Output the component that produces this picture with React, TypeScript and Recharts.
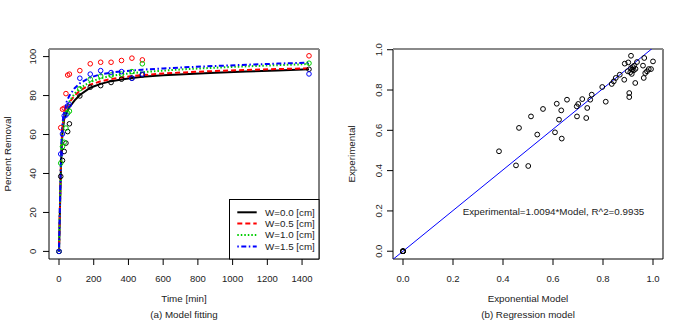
import React from "react";
import {
  ComposedChart,
  Line,
  Scatter,
  XAxis,
  YAxis,
  ReferenceArea,
  ReferenceLine,
} from "recharts";

// ---------- Data: left panel (a) Model fitting ----------
const pointTimes = [0, 10, 20, 30, 40, 50, 60, 120, 180, 240, 300, 360, 420, 480, 1440];
const obsW00 = [0, 38.5, 46.7, 51.3, 55.6, 61.5, 65.5, 79.8, 84.3, 85.1, 86.7, 88.4, 88.9, 90.6, 93.5];
const obsW05 = [0, 63.5, 73, 73.5, 81, 90.5, 91, 92.8, 96.3, 97.1, 97.1, 98, 99.2, 98.3, 100.4];
const obsW10 = [0, 45.3, 53.8, 56, 63.3, 71, 72, 83.5, 88.4, 90, 90.5, 91, 92.3, 96.3, 96.6];
const obsW15 = [0, 50, 60.3, 69.6, 70, 74.7, 75.3, 88.9, 91, 92.8, 91.8, 92.3, 88.9, 91, 91.1];

const curveTimes = [0, 5, 10, 15, 20, 30, 45, 60, 90, 120, 180, 240, 300, 360, 420, 480, 600, 720, 900, 1080, 1260, 1440];
const fitW00 = [0, 20, 39, 53, 61, 68, 71.5, 74, 77.5, 80.3, 84, 86, 87.4, 88.3, 89, 89.6, 90.4, 91, 91.7, 92.3, 92.9, 93.5];
const fitW05 = [0, 21, 41, 56, 64, 70, 74, 76.5, 80, 82.5, 85.6, 87.3, 88.5, 89.3, 90, 90.5, 91.3, 91.9, 92.6, 93.1, 93.6, 94];
const fitW10 = [0, 21, 40, 55, 63, 69.5, 74, 77, 81, 83.8, 87, 88.9, 90.1, 90.9, 91.5, 92, 92.8, 93.5, 94.3, 95, 95.6, 96.2];
const fitW15 = [0, 22, 43, 58, 66, 72, 77, 80, 83.8, 86.3, 89.3, 90.9, 91.8, 92.4, 92.9, 93.3, 93.9, 94.5, 95.2, 95.8, 96.4, 96.9];

const seriesNames = ["W=0.0 [cm]", "W=0.5 [cm]", "W=1.0 [cm]", "W=1.5 [cm]"];
const timeTicks = [0, 200, 400, 600, 800, 1000, 1200, 1400];
const removalTicks = [0, 20, 40, 60, 80, 100];

// ---------- Data: right panel (b) Regression model ----------
const modelX = [0, 0, 0, 0, 0.384, 0.452, 0.501, 0.464, 0.512, 0.537, 0.56, 0.608, 0.615, 0.624, 0.633, 0.635, 0.656, 0.695, 0.696, 0.701, 0.717, 0.733, 0.737, 0.749, 0.755, 0.797, 0.811, 0.835, 0.843, 0.851, 0.867, 0.885, 0.887, 0.901, 0.905, 0.905, 0.912, 0.899, 0.909, 0.917, 0.92, 0.925, 0.923, 0.929, 0.936, 0.96, 0.963, 0.965, 0.969, 0.976, 0.983, 0.992, 1.0, 0.912, 0.93, 0.915];
const experimentalY = [0, 0, 0, 0, 0.496, 0.426, 0.423, 0.612, 0.669, 0.579, 0.706, 0.59, 0.732, 0.653, 0.699, 0.559, 0.752, 0.719, 0.669, 0.731, 0.755, 0.661, 0.711, 0.752, 0.777, 0.815, 0.742, 0.83, 0.843, 0.86, 0.876, 0.851, 0.931, 0.937, 0.785, 0.765, 0.97, 0.893, 0.888, 0.901, 0.914, 0.921, 0.898, 0.835, 0.939, 0.921, 0.86, 0.959, 0.884, 0.893, 0.904, 0.904, 0.942, 0.909, 0.905, 0.88];
const regressionSlope = 1.0094;
const regressionR2 = 0.9935;
const unitTicks = [0, 0.2, 0.4, 0.6, 0.8, 1.0];

// ---------- styling ----------
const FONT = "'Liberation Sans', Arial, Helvetica, sans-serif";
const colors = ["#000000", "#FF0000", "#00CD00", "#0000FF"];
const dashes = [undefined, "5 3", "1.5 2", "1.5 2.5 5 2.5"];

const toXY = (xs: number[], ys: number[]) => xs.map((t, i) => ({ t, v: ys[i] }));
const obs = [obsW00, obsW05, obsW10, obsW15].map((ys) => toXY(pointTimes, ys));
const fits = [fitW00, fitW05, fitW10, fitW15].map((ys) => toXY(curveTimes, ys));

const scatterPts = modelX.map((x, i) => ({ x, y: experimentalY[i] }));

const LX_DOMAIN: [number, number] = [-57.6, 1497.6];
const LY_DOMAIN: [number, number] = [-3.9, 103.9];
const RX_DOMAIN: [number, number] = [-0.04, 1.04];
const RY_DOMAIN: [number, number] = [-0.0386, 1.0036];
const regLine = [
  { x: RX_DOMAIN[0], y: RX_DOMAIN[0] * regressionSlope },
  { x: RX_DOMAIN[1], y: RX_DOMAIN[1] * regressionSlope },
];

const CHART_W = 345;
const CHART_H = 321;
const MARGIN = { top: 49, right: 26, bottom: 0, left: 0 };
const TICK_FS = 9.5;
const LABEL_FS = 9.8;

const makeXTick = (fmt: (v: number) => string) => (p: any) => (
  <text
    key={`xt-${p.payload.value}`}
    x={p.x}
    y={282}
    textAnchor="middle"
    fontFamily={FONT}
    fontSize={TICK_FS}
    fill="#222"
  >
    {fmt(p.payload.value)}
  </text>
);

const makeYTick = (lx: number, fmt: (v: number) => string) => (p: any) => (
  <text
    key={`yt-${p.payload.value}`}
    x={lx}
    y={p.y}
    dy="0.35em"
    transform={`rotate(-90 ${lx} ${p.y})`}
    textAnchor="middle"
    fontFamily={FONT}
    fontSize={TICK_FS}
    fill="#222"
  >
    {fmt(p.payload.value)}
  </text>
);

const circleShape = (color: string, r: number) => (p: any) => (
  <circle cx={p.cx} cy={p.cy} r={r} fill="none" stroke={color} strokeWidth={1} />
);

function LeftChart() {
  return (
    <ComposedChart width={CHART_W} height={CHART_H} margin={MARGIN}>
      <XAxis
        type="number"
        dataKey="t"
        domain={LX_DOMAIN}
        ticks={timeTicks}
        interval={0}
        allowDataOverflow
        axisLine={false}
        tickSize={6}
        tickLine={{ stroke: "#000" }}
        height={62}
        tick={makeXTick((v) => String(v))}
      />
      <YAxis
        type="number"
        dataKey="v"
        domain={LY_DOMAIN}
        ticks={removalTicks}
        interval={0}
        allowDataOverflow
        axisLine={false}
        tickSize={6}
        tickLine={{ stroke: "#000" }}
        width={49}
        tick={makeYTick(32.5, (v) => String(v))}
      />
      <ReferenceArea
        x1={LX_DOMAIN[0]}
        x2={LX_DOMAIN[1]}
        y1={LY_DOMAIN[0]}
        y2={LY_DOMAIN[1]}
        fill="none"
        stroke="#000"
        strokeWidth={1}
        fillOpacity={0}
        ifOverflow="visible"
      />
      <ReferenceLine y={LY_DOMAIN[1]} stroke="#8a8a8a" strokeWidth={2} ifOverflow="visible" />
      {obs.map((d, i) => (
        <Scatter
          key={`pts-${i}`}
          data={d}
          dataKey="v"
          isAnimationActive={false}
          shape={circleShape(colors[i], 2.3)}
        />
      ))}
      {fits.map((d, i) => (
        <Line
          key={`fit-${i}`}
          data={d}
          dataKey="v"
          type="linear"
          stroke={colors[i]}
          strokeWidth={2}
          strokeDasharray={dashes[i]}
          dot={false}
          activeDot={false}
          isAnimationActive={false}
        />
      ))}
    </ComposedChart>
  );
}

function RightChart() {
  return (
    <ComposedChart width={CHART_W} height={CHART_H} margin={MARGIN}>
      <XAxis
        type="number"
        dataKey="x"
        domain={RX_DOMAIN}
        ticks={unitTicks}
        interval={0}
        allowDataOverflow
        axisLine={false}
        tickSize={6}
        tickLine={{ stroke: "#000" }}
        height={62}
        tick={makeXTick((v) => v.toFixed(1))}
      />
      <YAxis
        type="number"
        dataKey="y"
        domain={RY_DOMAIN}
        ticks={unitTicks}
        interval={0}
        allowDataOverflow
        axisLine={false}
        tickSize={6}
        tickLine={{ stroke: "#000" }}
        width={49}
        tick={makeYTick(34.5, (v) => v.toFixed(1))}
      />
      <ReferenceArea
        x1={RX_DOMAIN[0]}
        x2={RX_DOMAIN[1]}
        y1={RY_DOMAIN[0]}
        y2={RY_DOMAIN[1]}
        fill="none"
        stroke="#000"
        strokeWidth={1}
        fillOpacity={0}
        ifOverflow="visible"
      />
      <ReferenceLine y={RY_DOMAIN[1]} stroke="#8a8a8a" strokeWidth={2} ifOverflow="visible" />
      <Scatter
        data={scatterPts}
        dataKey="y"
        isAnimationActive={false}
        shape={circleShape("#000", 2.4)}
      />
      <Line
        data={regLine}
        dataKey="y"
        type="linear"
        stroke="#0000FF"
        strokeWidth={1}
        dot={false}
        activeDot={false}
        isAnimationActive={false}
      />
    </ComposedChart>
  );
}

function Overlay() {
  const legendRows = [212.3, 223.6, 235, 246.5];
  return (
    <svg
      width={689}
      height={321}
      style={{ position: "absolute", left: 0, top: 0, pointerEvents: "none" }}
      fontFamily={FONT}
    >
      {/* axis titles, left */}
      <text x={184} y={299} dy="0.35em" textAnchor="middle" fontSize={LABEL_FS} fill="#222">
        Time [min]
      </text>
      <text x={184} y={314.5} dy="0.35em" textAnchor="middle" fontSize={LABEL_FS} fill="#222">
        (a) Model fitting
      </text>
      <text
        x={8}
        y={154}
        dy="0.35em"
        transform="rotate(-90 8 154)"
        textAnchor="middle"
        fontSize={LABEL_FS}
        fill="#222"
      >
        Percent Removal
      </text>
      {/* axis titles, right */}
      <text x={528} y={299} dy="0.35em" textAnchor="middle" fontSize={LABEL_FS} fill="#222">
        Exponential Model
      </text>
      <text x={528} y={314.5} dy="0.35em" textAnchor="middle" fontSize={LABEL_FS} fill="#222">
        (b) Regression model
      </text>
      <text
        x={352}
        y={154}
        dy="0.35em"
        transform="rotate(-90 352 154)"
        textAnchor="middle"
        fontSize={LABEL_FS}
        fill="#222"
      >
        Experimental
      </text>
      {/* regression annotation */}
      <text x={553.5} y={211.7} dy="0.35em" textAnchor="middle" fontSize={LABEL_FS} fill="#222">
        {`Experimental=${regressionSlope.toFixed(4)}*Model, R^2=${regressionR2.toFixed(4)}`}
      </text>
      {/* legend */}
      <rect x={229.5} y={199.5} width={89.5} height={59.5} fill="#fff" stroke="#000" strokeWidth={1} />
      {seriesNames.map((name, i) => (
        <g key={name}>
          <line
            x1={237.3}
            x2={256.7}
            y1={legendRows[i]}
            y2={legendRows[i]}
            stroke={colors[i]}
            strokeWidth={2}
            strokeDasharray={dashes[i]}
          />
          <text x={265} y={legendRows[i]} dy="0.35em" fontSize={LABEL_FS} fill="#222">
            {name}
          </text>
        </g>
      ))}
    </svg>
  );
}

export default function App() {
  return (
    <div
      style={{
        position: "absolute",
        left: 0,
        top: 0,
        width: 689,
        height: 321,
        background: "#fff",
        overflow: "hidden",
      }}
    >
      <div style={{ position: "absolute", left: 0, top: 0 }}>
        <LeftChart />
      </div>
      <div style={{ position: "absolute", left: 344, top: 0 }}>
        <RightChart />
      </div>
      <Overlay />
    </div>
  );
}
